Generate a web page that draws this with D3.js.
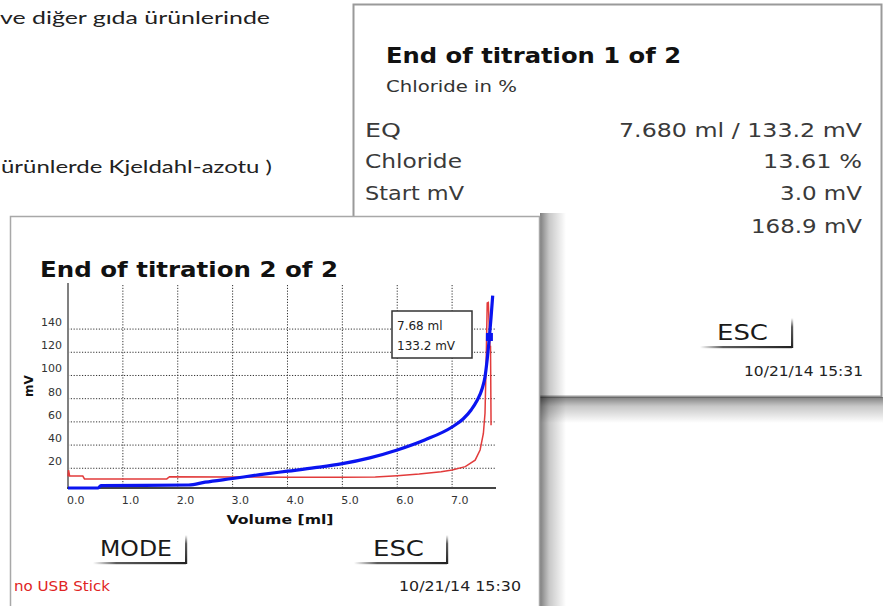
<!DOCTYPE html>
<html>
<head>
<meta charset="utf-8">
<script src="https://cdn.jsdelivr.net/npm/d3@7"></script>
<style>
  html,body{margin:0;padding:0;background:#fff;}
  svg{display:block;}
</style>
</head>
<body>
<script>
// values
const xTicks=[0,1,2,3,4,5,6,7];
const yTicks=[20,40,60,80,100,120,140];
const blueVolume=[0,0.55,0.6,2.2,2.5,3.0,3.5,4.0,4.5,5.0,5.5,6.0,6.5,7.0,7.2,7.35,7.45,7.55,7.6,7.64,7.68,7.71,7.74];
const blueMv=[3.0,3.0,5.0,5.6,8.0,11.2,14.5,17.5,20.5,24,29,35.8,44.4,55.6,62.5,70.5,78,89,99,114,133.2,150,168.9];
const redVolume=[0,0.01,0.03,0.27,0.3,1.8,1.85,3.0,4.0,5.0,5.6,6.0,6.4,6.8,7.0,7.24,7.42,7.51,7.57,7.6,7.62,7.64,7.66,7.69,7.7,7.71];
const redValue=[13,18.5,13.3,13.3,10.8,10.8,12.7,12.5,12.3,12.2,12.4,13.5,15,17,18.5,21.4,27,35.8,50,67.6,110,162.5,163,125,125,57];
const eqVolume=7.68;
const eqMv=133.2;
const resultLabels=["EQ","Chloride","Start mV","End mV"];
const resultValues=["7.680 ml / 133.2 mV","13.61 %","3.0 mV","168.9 mV"];

const W=883,H=606;
const ui="'DejaVu Sans', Verdana, sans-serif";
const svg=d3.select("body").append("svg").attr("width",W).attr("height",H);
const defs=svg.append("defs");

function grad(id,x2,y2,stops){
    const g=defs.append("linearGradient").attr("id",id)
        .attr("x1",0).attr("y1",0).attr("x2",x2).attr("y2",y2);
    stops.forEach(s=>g.append("stop").attr("offset",s[0]).attr("stop-color",s[1]).attr("stop-opacity",s[2]));
}
grad("shadowRight",1,0,[[0,"#000",0.5],[0.35,"#000",0.22],[1,"#000",0]]);
grad("shadowDown",0,1,[[0,"#000",0.5],[0.35,"#000",0.22],[1,"#000",0]]);
grad("btnH",1,0,[[0,"#333",0],[0.25,"#333",0.8],[1,"#222",1]]);
grad("btnV",0,1,[[0,"#333",0],[0.3,"#333",0.8],[1,"#222",1]]);

function txt(g,x,y,s,o={}){
    const t=g.append("text").attr("x",x).attr("y",y).text(s)
        .attr("font-family",o.family||ui)
        .attr("font-size",o.size||14)
        .attr("font-weight",o.weight||"normal")
        .attr("fill",o.fill||"#222")
        .attr("text-anchor",o.anchor||"start");
    if(o.len) t.attr("textLength",o.len).attr("lengthAdjust","spacingAndGlyphs");
    return t;
}

// page text behind the screenshots
const page=svg.append("g");
txt(page,0,24,"ve diğer gıda ürünlerinde",{family:"Lato, 'Open Sans', sans-serif",size:17,fill:"#222",len:270});
txt(page,1,173,"ürünlerde Kjeldahl-azotu )",{family:"Lato, 'Open Sans', sans-serif",size:17,fill:"#222",len:271});

// back screen: result table
const back=svg.append("g");
back.append("rect").attr("x",353.5).attr("y",4.5).attr("width",528).attr("height",392)
    .attr("fill","#fff").attr("stroke","#9a9a9a").attr("stroke-width",2);
txt(back,386,63,"End of titration 1 of 2",{size:21,weight:"bold",fill:"#111",len:295});
txt(back,386,92,"Chloride in %",{size:15,fill:"#333",len:131});
const rowBase=[137,168,200,233];
const labelLen=[36,97,99,null];
const valueLen=[243,99,82,111];
resultLabels.forEach((s,i)=>txt(back,365,rowBase[i],s,{size:20,fill:"#3a3a3a",len:labelLen[i]}));
resultValues.forEach((s,i)=>txt(back,862,rowBase[i],s,{size:20,fill:"#3a3a3a",anchor:"end",len:valueLen[i]}));
const bEsc=back.append("g");
txt(bEsc,717,340,"ESC",{size:21,fill:"#1a1a1a",len:51});
bEsc.append("rect").attr("x",700).attr("y",346).attr("width",92).attr("height",2.2).attr("fill","url(#btnH)");
bEsc.append("rect").attr("x",791).attr("y",318).attr("width",2.2).attr("height",30).attr("fill","url(#btnV)");
txt(back,863,376,"10/21/14 15:31",{size:14,fill:"#222",anchor:"end",len:119});
back.append("rect").attr("x",354).attr("y",397).attr("width",529).attr("height",26).attr("fill","url(#shadowDown)");

// front screen: titration curve
svg.append("rect").attr("x",540).attr("y",213).attr("width",26).attr("height",H-213).attr("fill","url(#shadowRight)");
const front=svg.append("g");
front.append("rect").attr("x",10.5).attr("y",216.5).attr("width",529).attr("height",410)
    .attr("fill","#fff").attr("stroke","#a8a8a8").attr("stroke-width",1.5);
txt(front,40,277,"End of titration 2 of 2",{size:21,weight:"bold",fill:"#111",len:298});

const x=d3.scaleLinear().domain([0,7.8]).range([68,496]);
const y=d3.scaleLinear().domain([3,178]).range([488,285]);
const plot=front.append("g");

// dotted grid
plot.selectAll(".vgrid").data(xTicks.slice(1)).enter().append("line")
    .attr("x1",d=>x(d)).attr("x2",d=>x(d)).attr("y1",y(178)).attr("y2",y(3))
    .attr("stroke","#333").attr("stroke-width",1).attr("stroke-dasharray","1.2,1.6");
plot.selectAll(".hgrid").data(yTicks).enter().append("line")
    .attr("x1",x(0)).attr("x2",x(7.8)).attr("y1",d=>y(d)).attr("y2",d=>y(d))
    .attr("stroke","#333").attr("stroke-width",1).attr("stroke-dasharray","1.2,1.6");

// axes
plot.append("line").attr("x1",x(0)).attr("x2",x(0)).attr("y1",y(178)-2).attr("y2",y(3))
    .attr("stroke","#808080").attr("stroke-width",2);
plot.append("line").attr("x1",x(0)-1).attr("x2",x(7.8)).attr("y1",y(3)).attr("y2",y(3))
    .attr("stroke","#444").attr("stroke-width",2);
plot.selectAll(".ylab").data(yTicks).enter().append("text")
    .attr("x",62).attr("y",d=>y(d)-3).attr("text-anchor","end")
    .attr("font-family",ui).attr("font-size",11).attr("fill","#333").text(d=>d);
plot.selectAll(".xlab").data(xTicks).enter().append("text")
    .attr("x",d=>x(d)-1).attr("y",504)
    .attr("font-family",ui).attr("font-size",11).attr("fill","#333").text(d=>d3.format(".1f")(d));
txt(plot,280,524,"Volume [ml]",{size:12,weight:"bold",fill:"#111",anchor:"middle",len:107});
txt(plot,0,0,"mV",{size:12,weight:"bold",fill:"#111",anchor:"middle"})
    .attr("transform","translate(33,386) rotate(-90)");

// curves
const redLine=d3.line().x(d=>x(d[0])).y(d=>y(d[1]));
plot.append("path").datum(d3.zip(redVolume,redValue))
    .attr("fill","none").attr("stroke","#e23b3b").attr("stroke-width",1.5).attr("d",redLine);
const blueLine=d3.line().x(d=>x(d[0])).y(d=>y(d[1])).curve(d3.curveMonotoneX);
plot.append("path").datum(d3.zip(blueVolume,blueMv))
    .attr("fill","none").attr("stroke","#0a14f0").attr("stroke-width",3.2).attr("d",blueLine);
plot.append("rect").attr("x",x(eqVolume)-3.5).attr("y",y(eqMv)-4).attr("width",7).attr("height",8).attr("fill","#0a14f0");

// equivalence point label
const tip=plot.append("g");
tip.append("rect").attr("x",392).attr("y",311).attr("width",80).attr("height",47)
    .attr("fill","#fff").attr("stroke","#333").attr("stroke-width",1.5);
txt(tip,397,330,d3.format(".2f")(eqVolume)+" ml",{size:12,fill:"#222"});
txt(tip,397,350,d3.format(".1f")(eqMv)+" mV",{size:12,fill:"#222"});

// buttons and status line
const fm=front.append("g");
txt(fm,100,556,"MODE",{size:21,fill:"#1a1a1a",len:72});
fm.append("rect").attr("x",93).attr("y",562).attr("width",93).attr("height",2.2).attr("fill","url(#btnH)");
fm.append("rect").attr("x",185).attr("y",535).attr("width",2.2).attr("height",29).attr("fill","url(#btnV)");
const fe=front.append("g");
txt(fe,373,556,"ESC",{size:21,fill:"#1a1a1a",len:51});
fe.append("rect").attr("x",354).attr("y",562).attr("width",93).attr("height",2.2).attr("fill","url(#btnH)");
fe.append("rect").attr("x",446).attr("y",535).attr("width",2.2).attr("height",29).attr("fill","url(#btnV)");
txt(front,14,591,"no USB Stick",{size:14,fill:"#e02424",len:96});
txt(front,521,591,"10/21/14 15:30",{size:14,fill:"#222",anchor:"end",len:122});
</script>
</body>
</html>
